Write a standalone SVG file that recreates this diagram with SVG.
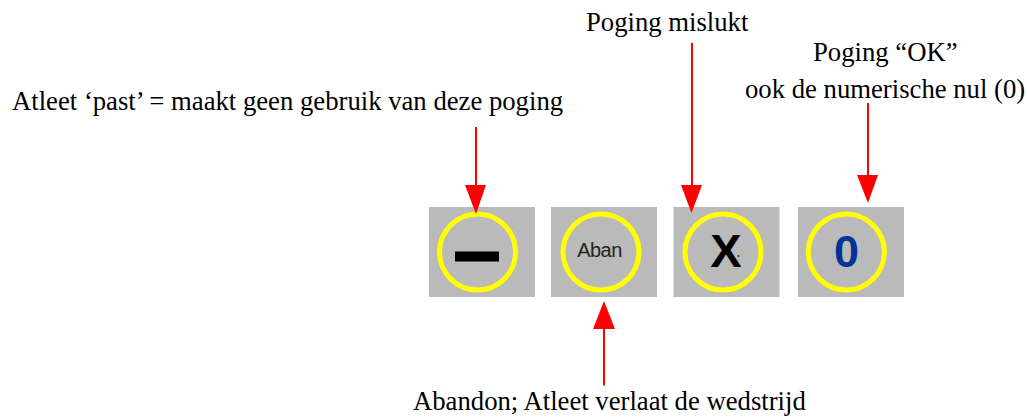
<svg xmlns="http://www.w3.org/2000/svg" width="1027" height="419" viewBox="0 0 1027 419">
<style>
.box{fill:#bababa}
.ring{fill:none;stroke:#ffff00;stroke-width:5}
.lbl{font-family:"Liberation Serif",serif;font-size:26.7px;fill:#000}
.sym{font-family:"Liberation Sans",Arial,sans-serif;text-anchor:middle}
.line{stroke:#ff0000;stroke-width:2;fill:none}
.head{fill:#ff0000}
</style>
<rect width="1027" height="419" fill="#fff"/>
<g id="node-past"><rect class="box" x="429" y="207" width="106" height="90"/><circle class="ring" cx="477.500" cy="252" r="38"/><rect x="455" y="251.500" width="44" height="10" fill="#000"/></g>
<g id="node-aban"><rect class="box" x="551" y="207" width="106" height="90"/><circle class="ring" cx="601" cy="252" r="38"/><text class="sym" x="599.500" y="257" font-size="20" letter-spacing="-0.6" fill="#222">Aban</text></g>
<g id="node-x"><rect class="box" x="673.500" y="207" width="106" height="90"/><circle class="ring" cx="723" cy="252" r="38"/><text class="sym" x="726" y="267" font-size="47" font-weight="bold" fill="#000">X</text><circle cx="738.500" cy="256" r="1" fill="#222"/></g>
<g id="node-0"><rect class="box" x="798" y="207" width="106" height="90"/><circle class="ring" cx="846.300" cy="252" r="38"/><text class="sym" x="846.500" y="266.500" font-size="45" font-weight="bold" fill="#003399">0</text></g>
<g id="connectors">
<path class="line" d="M476 127V186"/><path class="head" d="M465 185H486L476 214Z"/>
<path class="line" d="M692 43V186"/><path class="head" d="M681 185H702L691.500 213Z"/>
<path class="line" d="M868 103V176"/><path class="head" d="M857 175H878L868 203Z"/>
<path class="line" d="M604 385.500V328"/><path class="head" d="M593 329H615L604 301Z"/>
</g>
<g id="labels">
<text class="lbl" x="12" y="109.500">Atleet ‘past’ = maakt geen gebruik van deze poging</text>
<text class="lbl" x="586" y="31">Poging mislukt</text>
<text class="lbl" x="813" y="61">Poging “OK”</text>
<text class="lbl" x="745" y="98">ook de numerische nul (0)</text>
<text class="lbl" x="413" y="410">Abandon; Atleet verlaat de wedstrijd</text>
</g>
</svg>
